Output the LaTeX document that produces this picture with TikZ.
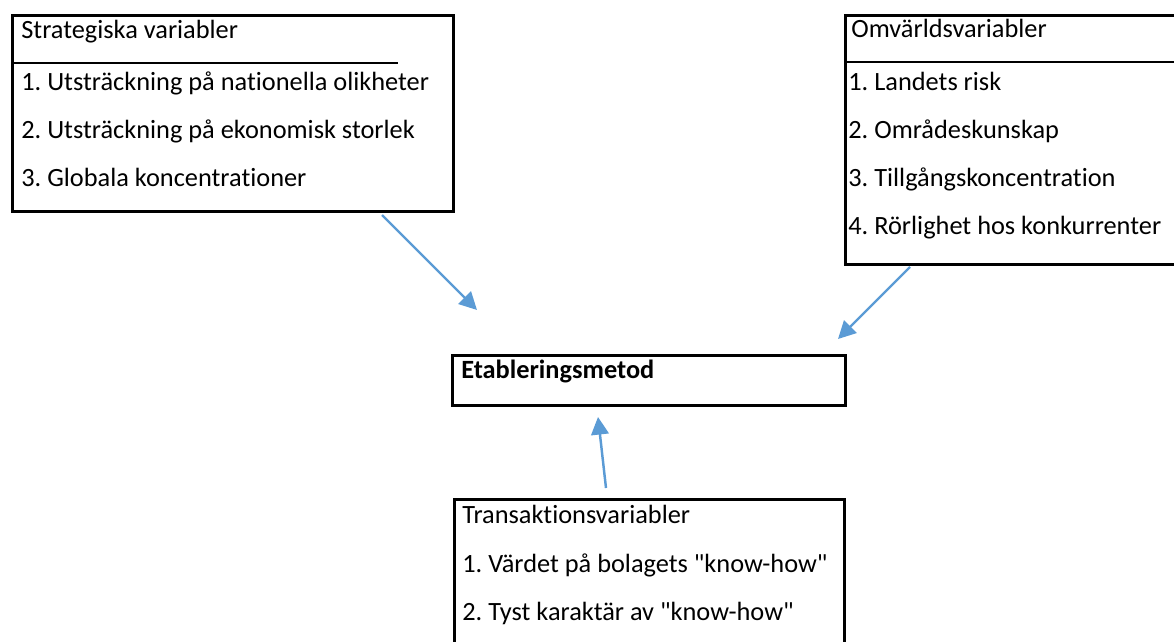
\documentclass[tikz,border=0pt]{standalone}
\usepackage{fontspec}
\setmainfont{Carlito}[Ligatures={TeXOff,NoCommon,NoRequired}]
\usetikzlibrary{arrows.meta,positioning}
\definecolor{linkblue}{HTML}{5B9BD5}
\frenchspacing

\begin{document}
\begin{tikzpicture}[x=0.02cm,y=-0.02cm,font=\fontsize{15}{18}\selectfont,
  box/.style={draw,line width=1.7pt,anchor=north west,inner sep=0pt},
  txt/.style={anchor=base west,inner sep=0pt},
  link/.style={draw=linkblue,line width=1.4pt,-{Triangle[length=10pt,width=10pt]}}]
\clip (0,0) rectangle (1174,642);
% boxes
\node[box,minimum width=8.82cm,minimum height=3.92cm] (strat) at (11,14) {};
\node[box,minimum width=6.92cm,minimum height=4.98cm] (omv) at (844,14) {};
\node[box,minimum width=7.86cm,minimum height=1.0cm] (etab) at (451,354) {};
\node[box,minimum width=7.8cm,minimum height=3.3cm] (trans) at (453,498) {};
% header rules
\coordinate (sr0) at (11,63); \coordinate (sr1) at (398,63);
\coordinate (or0) at (844,62); \coordinate (or1) at (1190,62);
\draw[line width=1.2pt] (sr0)--(sr1);
\draw[line width=1.2pt] (or0)--(or1);
% texts
\node[txt] (strat-h) at (21,39) {Strategiska variabler};
\node[txt] (strat-1) at (21,91) {1. Utsträckning på nationella olikheter};
\node[txt] (strat-2) at (21,139) {2. Utsträckning på ekonomisk storlek};
\node[txt] (strat-3) at (21,187) {3. Globala koncentrationer};
\node[txt] (omv-h) at (851,38) {Omvärldsvariabler};
\node[txt] (omv-1) at (848,91) {1. Landets risk};
\node[txt] (omv-2) at (848,139) {2. Områdeskunskap};
\node[txt] (omv-3) at (848,187) {3. Tillgångskoncentration};
\node[txt] (omv-4) at (848,235) {4. Rörlighet hos konkurrenter};
\node[txt,font=\fontsize{15}{18}\selectfont\bfseries] (etab-h) at (461,378) {Etableringsmetod};
\node[txt] (trans-h) at (462,523) {Transaktionsvariabler};
\node[txt] (trans-1) at (462,572) {1. Värdet på bolagets "know-how"};
\node[txt] (trans-2) at (462,620) {2. Tyst karaktär av "know-how"};
% arrows
\coordinate (s-from) at (382,215); \coordinate (s-to) at (477,310);
\coordinate (o-from) at (910,267); \coordinate (o-to) at (838,339);
\coordinate (t-from) at (606,488); \coordinate (t-to) at (598,417);
\draw[link] (s-from)--(s-to);
\draw[link] (o-from)--(o-to);
\draw[link] (t-from)--(t-to);
\end{tikzpicture}
\end{document}
